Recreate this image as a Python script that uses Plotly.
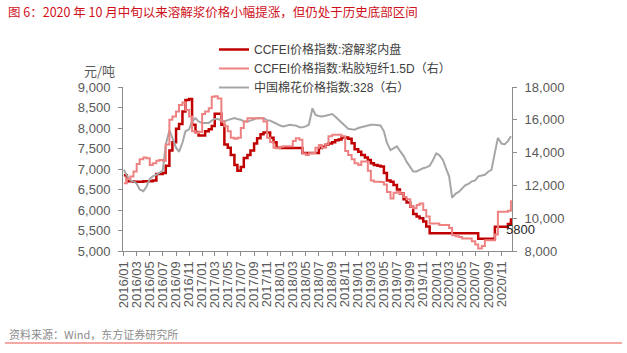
import plotly.graph_objects as go
import pandas as pd

# ---- data (semi-monthly samples, 2016-01 .. 2020-12) ----
dates = pd.date_range("2016-01-01", periods=120, freq="SMS")

dissolving_pulp = [  # CCFEI价格指数:溶解浆内盘 (left axis, 元/吨)
    6850, 6700, 6700, 6690, 6690, 6690, 6700, 6700, 6700, 6720, 6880, 6880,
    6900, 7080, 7450, 7650, 7980, 8100, 8400, 8680, 8710, 8080, 7900, 7820,
    7820, 7920, 7970, 8050, 8350, 8350, 8080, 7600, 7520, 7340, 7100, 6960,
    7050, 7270, 7340, 7450, 7620, 7750, 7850, 7890, 7890, 7760, 7650, 7520,
    7510, 7510, 7510, 7510, 7510, 7510, 7510, 7390, 7390, 7390, 7390, 7390,
    7510, 7540, 7590, 7620, 7650, 7700, 7720, 7770, 7770, 7740, 7630, 7480,
    7420, 7340, 7280, 7220, 7140, 7100, 7080, 7060, 6900, 6720, 6690, 6610,
    6500, 6400, 6260, 6180, 6080, 5900, 5840, 5800, 5720, 5600, 5430, 5430,
    5430, 5430, 5430, 5430, 5430, 5430, 5430, 5430, 5430, 5430, 5430, 5430,
    5430, 5300, 5300, 5300, 5300, 5300, 5590, 5590, 5590, 5590, 5660, 5800,
]

viscose = [  # CCFEI价格指数:粘胶短纤1.5D（右）
    12130, 12400, 12540, 12840, 13300, 13600, 13700, 13650, 13250, 13350, 13500, 13550,
    13500, 14500, 16000, 16200, 16500, 16900, 17050, 16600, 16200, 15300, 15200, 15250,
    16350, 16500, 16700, 17400, 17440, 17300, 15900, 15600, 15300, 14900, 14850, 14900,
    15500, 15900, 16100, 16100, 16100, 16100, 16100, 15900, 14900, 14650, 14300, 14270,
    14350, 14380, 14380, 14380, 14700, 14880, 14780, 13950, 13860, 13960, 13970, 14300,
    14470, 14300, 14500, 15000, 15090, 15090, 15090, 15000, 14100, 13850, 13600, 13350,
    13250, 13450, 13450, 12900, 12300, 12230, 12230, 12200, 12050, 11600, 11200, 11550,
    11620, 11500, 11300, 11150, 10700, 10600, 10800, 10900, 10500, 10100, 9680, 9680,
    9680, 9580, 9580, 9580, 9400, 8960, 8900, 8860, 8760, 8760, 8760, 8600,
    8400, 8150, 8300, 8660, 8660, 8660, 9000, 10400, 10400, 10400, 10450, 11100,
]

cotton = [  # 中国棉花价格指数:328（右）
    12950, 12600, 12300, 12250, 12100, 11750, 11650, 11900, 12400, 12550, 12650, 12750,
    12900, 14500, 15350, 14900, 14300, 14050, 14600, 15300, 15420, 15900, 16100, 15900,
    15800, 15800, 15800, 15950, 16050, 16050, 15950, 15900, 15980, 16050, 16100, 16050,
    16000, 15900, 15900, 15950, 16050, 16100, 16100, 16100, 15980, 15950, 15850, 15740,
    15650, 15600, 15650, 15700, 15670, 15660, 15550, 15540, 15600, 15700, 16700, 16300,
    16230, 16200, 16250, 16300, 16350, 16200, 16000, 15850, 15650, 15450, 15420, 15400,
    15500, 15550, 15600, 15660, 15700, 15700, 15650, 15650, 15300, 14600, 14150, 14250,
    14380, 14100, 13800, 13450, 13100, 12850, 12850, 12950, 13050, 13100, 13200, 13500,
    13950, 13850, 13550, 13050, 12550, 11250, 11500, 11600, 11800, 12000, 12100, 12250,
    12300, 12550, 12600, 12650, 12850, 12950, 14000, 14900, 14550, 14500, 14700, 15000,
]

series_names = [
    "CCFEI价格指数:溶解浆内盘",
    "CCFEI价格指数:粘胶短纤1.5D（右）",
    "中国棉花价格指数:328（右）",
]
tick_dates = pd.date_range("2016-01-01", "2020-11-01", freq="2MS")
tick_labels = [d.strftime("%Y/%m") for d in tick_dates]
last_label = "5800"

# ---- layout geometry (pixels) ----
W, H = 627, 353
L, R, T, B = 123, 512, 87, 251


def px_x(px):
    return (px - L) / (R - L)


def px_y(py):
    return (B - py) / (B - T)


LAT = "Liberation Sans, Arial, Noto Sans CJK SC, sans-serif"
CJK = "Noto Sans CJK SC, Liberation Sans, sans-serif"
AXIS_COLOR = "#8C8C8C"
TICK_FONT = dict(family=LAT, size=13, color="#595959")

fig = go.Figure()
fig.add_trace(go.Scatter(
    x=dates, y=cotton, name=series_names[2], yaxis="y2", mode="lines",
    line=dict(color="#A6A6A6", width=2), legendrank=3,
))
fig.add_trace(go.Scatter(
    x=dates, y=viscose, name=series_names[1], yaxis="y2", mode="lines",
    line=dict(color="#EE8282", width=2, shape="hv"), legendrank=2,
))
fig.add_trace(go.Scatter(
    x=dates, y=dissolving_pulp, name=series_names[0], yaxis="y", mode="lines",
    line=dict(color="#C00000", width=2.5, shape="hv"), legendrank=1,
))

fig.update_layout(
    width=W, height=H,
    margin=dict(l=L, r=W - R, t=T, b=H - B, pad=0),
    paper_bgcolor="white", plot_bgcolor="white",
    showlegend=True,
    legend=dict(
        x=px_x(214), y=px_y(35), xanchor="left", yanchor="top",
        font=dict(family=LAT, size=12, color="#404040"),
        bgcolor="rgba(0,0,0,0)", traceorder="normal",
    ),
    title=dict(
        text="图 6：2020 年 10 月中旬以来溶解浆价格小幅提涨，但仍处于历史底部区间",
        x=8 / W, xanchor="left", xref="container",
        y=1 - 13 / H, yanchor="middle", yref="container",
        font=dict(family=CJK, size=12.5, color="#D0101A"),
    ),
    xaxis=dict(
        type="date",
        range=["2015-12-28", "2020-12-20"],
        tickvals=list(tick_dates), ticktext=tick_labels,
        tickangle=-90, tickfont=TICK_FONT,
        showgrid=False, zeroline=False,
        showline=True, linecolor=AXIS_COLOR, linewidth=1,
        ticks="outside", ticklen=4, tickcolor=AXIS_COLOR,
    ),
    yaxis=dict(
        range=[5000, 9000], dtick=500, tickformat=",",
        tickfont=TICK_FONT, showgrid=False, zeroline=False,
        showline=True, linecolor=AXIS_COLOR, linewidth=1,
        ticks="outside", ticklen=4, tickcolor=AXIS_COLOR,
        ticklabelstandoff=5,
    ),
    yaxis2=dict(
        range=[8000, 18000], dtick=2000, tickformat=",",
        overlaying="y", side="right",
        tickfont=TICK_FONT, showgrid=False, zeroline=False,
        showline=True, linecolor=AXIS_COLOR, linewidth=1,
        ticks="outside", ticklen=4, tickcolor=AXIS_COLOR,
        ticklabelstandoff=5,
    ),
)

# axis unit label
fig.add_annotation(
    text="元/吨", xref="paper", yref="paper", x=px_x(99), y=px_y(71),
    xanchor="center", yanchor="middle", showarrow=False,
    font=dict(family=CJK, size=13, color="#595959"),
)
# last value label
fig.add_annotation(
    text=last_label, x=dates[-1], y=dissolving_pulp[-1], xref="x", yref="y",
    xanchor="left", yanchor="middle", xshift=-7, yshift=-11, showarrow=False,
    font=dict(family=LAT, size=13, color="#262626"),
)
# source
fig.add_annotation(
    text="资料来源：Wind，东方证券研究所", xref="paper", yref="paper",
    x=px_x(7), y=px_y(334), xanchor="left", yanchor="middle", showarrow=False,
    font=dict(family=CJK, size=11, color="#8C8C8C"),
)
fig.add_shape(
    type="line", xref="paper", yref="paper",
    x0=px_x(5), x1=px_x(622), y0=px_y(343), y1=px_y(343),
    line=dict(color="#F08C86", width=1.5),
)

fig.write_html("out.html")
